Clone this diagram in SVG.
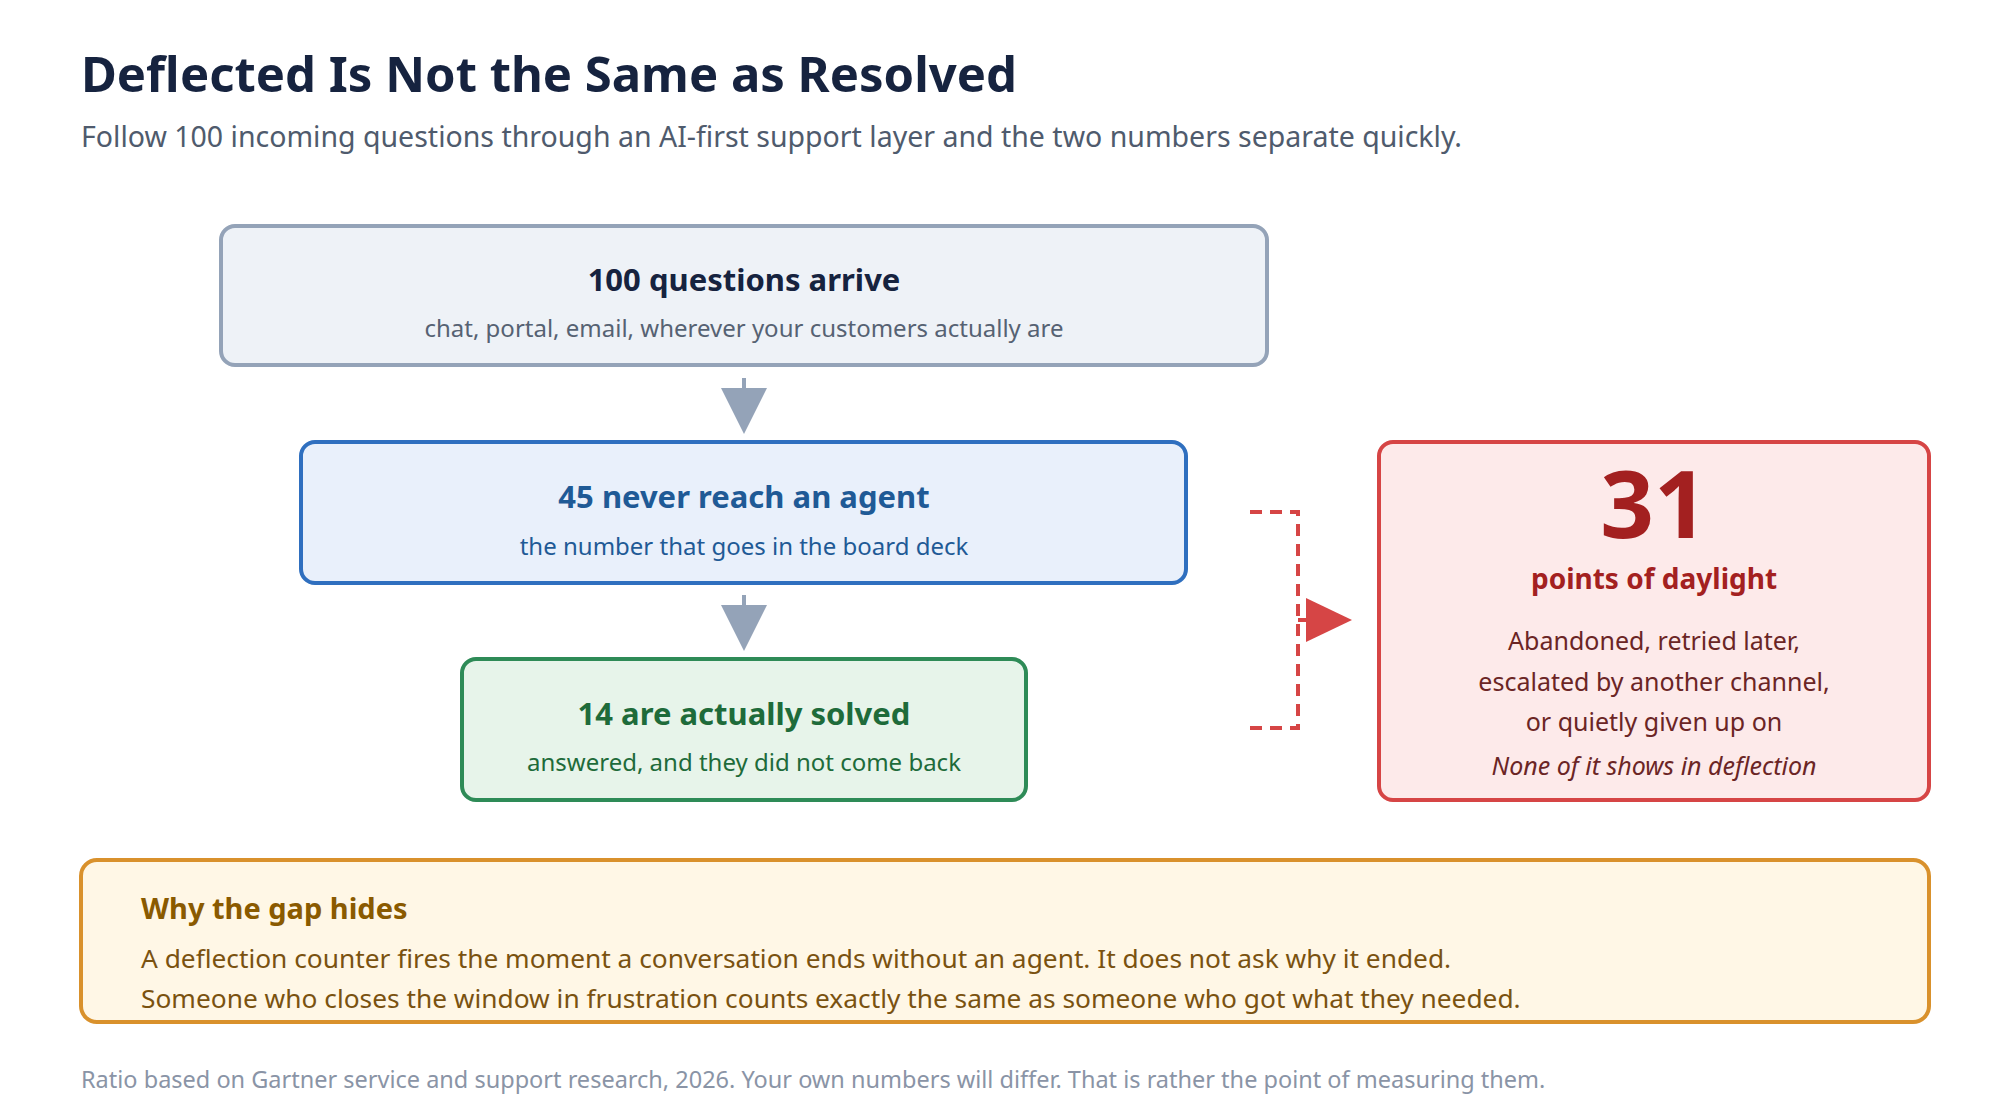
<svg xmlns="http://www.w3.org/2000/svg" width="2000" height="1120" viewBox="0 0 2000 1120">
<style>
text{font-family:"Noto Sans","Open Sans","Liberation Sans",sans-serif}
.c{text-anchor:middle}
.box{stroke-width:4}
.h{font-weight:bold;font-size:31px}
.s{font-size:24px}
</style>
<rect width="2000" height="1120" fill="#fff"/>
<text x="81" y="92" font-size="49" font-weight="bold" fill="#16233f">Deflected Is Not the Same as Resolved</text>
<text x="81" y="147" font-size="28.5" fill="#4f5b6d">Follow 100 incoming questions through an AI-first support layer and the two numbers separate quickly.</text>

<g id="arrive">
<rect class="box" x="221" y="226" width="1046" height="139" rx="14" fill="#eef2f7" stroke="#94a3b8"/>
<text class="c h" x="744" y="291" fill="#16233f">100 questions arrive</text>
<text class="c s" x="744" y="337" fill="#566273">chat, portal, email, wherever your customers actually are</text>
</g>
<g id="deflected">
<rect class="box" x="301" y="442" width="885" height="141" rx="14" fill="#e9f0fb" stroke="#2f6fbf"/>
<text class="c h" x="744" y="508" fill="#1f5a96">45 never reach an agent</text>
<text class="c s" x="744" y="555" fill="#1f5a96">the number that goes in the board deck</text>
</g>
<g id="solved">
<rect class="box" x="462" y="659" width="564" height="141" rx="14" fill="#e7f4ea" stroke="#2e8b57"/>
<text class="c h" x="744" y="725" fill="#1e6b3a">14 are actually solved</text>
<text class="c s" x="744" y="771" fill="#1e6b3a">answered, and they did not come back</text>
</g>
<g id="gap">
<rect class="box" x="1379" y="442" width="550" height="358" rx="14" fill="#fdeaea" stroke="#d64545"/>
<text class="c" x="1654" y="538" font-size="94" font-weight="bold" fill="#a32020">31</text>
<text class="c" x="1654" y="589" font-size="28" font-weight="bold" fill="#a32020">points of daylight</text>
<text class="c" x="1654" y="650" font-size="25" fill="#6b2525">Abandoned, retried later,</text>
<text class="c" x="1654" y="691" font-size="25" fill="#6b2525">escalated by another channel,</text>
<text class="c" x="1654" y="731" font-size="25" fill="#6b2525">or quietly given up on</text>
<text class="c" x="1654" y="775" font-size="25" font-style="italic" fill="#6b2525">None of it shows in deflection</text>
</g>
<g id="why">
<rect class="box" x="81" y="860" width="1848" height="162" rx="16" fill="#fff7e6" stroke="#d9912c"/>
<text x="141" y="919" font-size="29" font-weight="bold" fill="#8a5a00">Why the gap hides</text>
<text x="141" y="968" font-size="26.3" fill="#7a5210">A deflection counter fires the moment a conversation ends without an agent. It does not ask why it ended.</text>
<text x="141" y="1008" font-size="26.3" fill="#7a5210">Someone who closes the window in frustration counts exactly the same as someone who got what they needed.</text>
</g>
<text x="81" y="1088" font-size="23.5" fill="#8a94a6">Ratio based on Gartner service and support research, 2026. Your own numbers will differ. That is rather the point of measuring them.</text>

<g id="connectors">
<line x1="744" y1="378" x2="744" y2="396" stroke="#94a3b8" stroke-width="4"/>
<path d="M721,388L767,388L744,434z" fill="#94a3b8"/>
<line x1="744" y1="595" x2="744" y2="613" stroke="#94a3b8" stroke-width="4"/>
<path d="M721,605L767,605L744,651z" fill="#94a3b8"/>
<path d="M1250,512H1298V728H1250" fill="none" stroke="#d64545" stroke-width="4" stroke-dasharray="12,8"/>
<line x1="1298" y1="620" x2="1312" y2="620" stroke="#d64545" stroke-width="4"/>
<path d="M1306,598L1352,620L1306,642z" fill="#d64545"/>
</g>
</svg>
